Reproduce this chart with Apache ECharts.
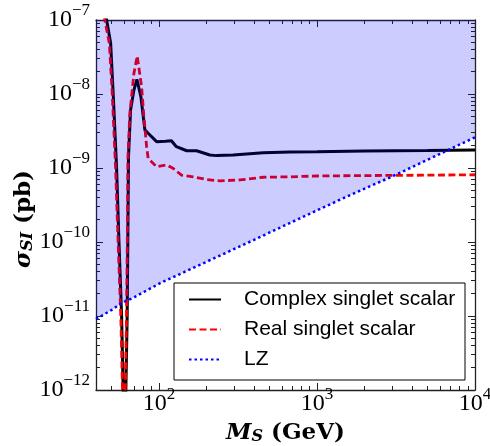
<!DOCTYPE html>
<html><head><meta charset="utf-8">
<script src="https://cdn.jsdelivr.net/npm/echarts@6/dist/echarts.min.js"></script>
<style>html,body{margin:0;padding:0;background:#fff}#c{width:490px;height:446px}</style>
</head><body><div id="c"></div>
<script>
// ---- data ----
const complexMass  = [42.6, 46.7, 49.5, 51.4, 54.0, 55.9, 58.1, 59.4, 60.6, 61.8, 63.0, 63.6, 64.2, 66.2, 69.5, 72.6, 76.9, 81.5, 85.5, 96.7, 110, 120, 129, 150, 173, 210, 232, 295, 457, 675, 1000, 2000, 5000, 10000];
const complexSigma = [3e-7, 1e-7, 4.9e-8, 1e-8, 1e-9, 1e-10, 1e-11, 1e-12, 1e-15, 1e-12, 1e-11, 1e-10, 1.4e-9, 6.1e-9, 1.13e-8, 1.58e-8, 9.2e-9, 3.27e-9, 2.95e-9, 2.27e-9, 2.3e-9, 2.34e-9, 1.94e-9, 1.71e-9, 1.71e-9, 1.5e-9, 1.47e-9, 1.5e-9, 1.61e-9, 1.65e-9, 1.66e-9, 1.7e-9, 1.72e-9, 1.75e-9];
const realMass  = [41.2, 45.5, 48.6, 50.7, 53.2, 55.2, 57.4, 58.9, 60.1, 61.3, 62.4, 63.1, 63.7, 65.5, 69.5, 72.9, 77.7, 80.4, 83.6, 85.5, 96.7, 112, 123, 139, 165, 200, 243, 326, 457, 675, 1000, 2000, 5000, 10000];
const realSigma = [3e-7, 1e-7, 4.8e-8, 1e-8, 1e-9, 1e-10, 1e-11, 1e-12, 1e-15, 1e-12, 1e-11, 1e-10, 1.4e-9, 5.5e-9, 1.9e-8, 3.26e-8, 1.26e-8, 4.9e-9, 1.94e-9, 1.35e-9, 1.04e-9, 1.1e-9, 9.9e-10, 8.0e-10, 7.6e-10, 7.0e-10, 6.7e-10, 6.9e-10, 7.5e-10, 7.6e-10, 7.8e-10, 7.9e-10, 8.0e-10, 8.1e-10];
const lzMass  = [40, 50, 58, 70, 101.5, 200, 400, 780, 1542, 3040, 10000];
const lzSigma = [9.1e-12, 1.2e-11, 1.49e-11, 1.8e-11, 2.77e-11, 5.4e-11, 1.07e-10, 2.09e-10, 4.1e-10, 7.8e-10, 2.6e-9];
const seriesNames = ['Complex singlet scalar', 'Real singlet scalar', 'LZ'];

const xMajorTicks = [100, 1000, 10000];
const xMinorTicks = [50, 60, 70, 80, 90, 200, 300, 400, 500, 600, 700, 800, 900, 2000, 3000, 4000, 5000, 6000, 7000, 8000, 9000];
const yMajorTicks = [1e-12, 1e-11, 1e-10, 1e-9, 1e-8, 1e-7];
const yMinorTicks = [
  2e-12, 3e-12, 4e-12, 5e-12, 6e-12, 7e-12, 8e-12, 9e-12,
  2e-11, 3e-11, 4e-11, 5e-11, 6e-11, 7e-11, 8e-11, 9e-11,
  2e-10, 3e-10, 4e-10, 5e-10, 6e-10, 7e-10, 8e-10, 9e-10,
  2e-9, 3e-9, 4e-9, 5e-9, 6e-9, 7e-9, 8e-9, 9e-9,
  2e-8, 3e-8, 4e-8, 5e-8, 6e-8, 7e-8, 8e-8, 9e-8];
const xRange = [40, 10000];
const yRange = [1e-12, 1e-7];

// ---- helpers ----
const zip = (a, b) => a.map((v, i) => [v, b[i]]);
function powLabel(v) {
  const l = Math.log10(v), e = Math.round(l);
  if (Math.abs(l - e) > 1e-6) return '';
  return '{b|10}{s|' + (e < 0 ? '\u2212' + (-e) : e) + '}';
}
const axisCol = '#222';
const tickRich = {
  b: {fontFamily: 'Liberation Serif', fontSize: 24, lineHeight: 26, color: '#000'},
  s: {fontFamily: 'Liberation Serif', fontSize: 17, lineHeight: 17, color: '#000', padding: [0, 0, 19, 0]}
};
function mkX(pos, ticks, len, main) {
  return {
    type: 'log', logBase: 10, min: xRange[0], max: xRange[1], position: pos, gridIndex: 0,
    axisLine: {show: main, lineStyle: {color: axisCol, width: 1.3}},
    axisTick: {show: true, inside: true, length: len, customValues: ticks, lineStyle: {color: axisCol, width: 1}},
    minorTick: {show: false}, splitLine: {show: false},
    axisLabel: pos === 'bottom' && main ? {show: true, customValues: ticks, formatter: powLabel, rich: tickRich, margin: 1} : {show: false}
  };
}
function mkY(pos, ticks, len, main) {
  return {
    type: 'log', logBase: 10, min: yRange[0], max: yRange[1], position: pos, gridIndex: 0,
    axisLine: {show: main, lineStyle: {color: axisCol, width: 1.3}},
    axisTick: {show: true, inside: true, length: len, customValues: ticks, lineStyle: {color: axisCol, width: 1}},
    minorTick: {show: false}, splitLine: {show: false},
    axisLabel: pos === 'left' && main ? {show: true, customValues: ticks, formatter: powLabel, rich: tickRich, margin: 6} : {show: false}
  };
}

const xAxes = [mkX('bottom', xMajorTicks, 7, true), mkX('bottom', xMinorTicks, 4, false), mkX('top', xMajorTicks, 7, true), mkX('top', xMinorTicks, 4, false)];
const yAxes = [mkY('left', yMajorTicks, 7, true), mkY('left', yMinorTicks, 4, false), mkY('right', yMajorTicks, 7, true), mkY('right', yMinorTicks, 4, false)];

const nameRich = {
  m: {fontFamily: 'DejaVu Serif', fontWeight: 'bold', fontStyle: 'italic', fontSize: 23, color: '#000'},
  sub: {fontFamily: 'DejaVu Serif', fontWeight: 'bold', fontStyle: 'italic', fontSize: 16, color: '#000', padding: [8, 0, 0, 0]},
  b: {fontFamily: 'DejaVu Serif', fontWeight: 'bold', fontSize: 23, color: '#000'}
};
xAxes[0].name = '{m|M}{sub|S}{b| (GeV)}';
xAxes[0].nameLocation = 'middle';
xAxes[0].nameGap = 31;
xAxes[0].nameMoveOverlap = false;
xAxes[0].nameTextStyle = {rich: nameRich};
yAxes[0].name = '{m|\u03c3}{sub|SI}{b| (pb)}';
yAxes[0].nameLocation = 'middle';
yAxes[0].nameRotate = 90;
yAxes[0].nameGap = 60;
yAxes[0].nameMoveOverlap = false;
yAxes[0].nameTextStyle = {padding: [0, 28, 0, 0], rich: nameRich};

const chart = echarts.init(document.getElementById('c'), null, {renderer: 'canvas'});
chart.setOption({
  animation: false,
  backgroundColor: '#fff',
  grid: {left: 96, right: 15, top: 20, bottom: 56, containLabel: false, outerBoundsMode: 'none'},
  xAxis: xAxes,
  yAxis: yAxes,
  legend: {
    orient: 'vertical', left: 174, top: 283,
    padding: [6, 9, 10, 14],
    backgroundColor: '#fff', borderColor: '#000', borderWidth: 1, borderRadius: 0,
    itemWidth: 32, itemHeight: 14, itemGap: 9,
    itemStyle: {color: 'rgba(0,0,0,0)', borderWidth: 0},
    textStyle: {fontFamily: 'Liberation Sans', fontSize: 21, lineHeight: 21, color: '#000', width: 212, padding: [0, 0, 0, 18]},
    data: seriesNames
  },
  series: [
    {name: seriesNames[0], type: 'line', data: zip(complexMass, complexSigma), xAxisIndex: 0, yAxisIndex: 0,
     showSymbol: false, symbol: 'none', clip: true, z: 2,
     lineStyle: {color: '#000', width: 3}, itemStyle: {color: '#000'}},
    {name: seriesNames[1], type: 'line', data: zip(realMass, realSigma), xAxisIndex: 0, yAxisIndex: 0,
     showSymbol: false, symbol: 'none', clip: true, z: 2,
     lineStyle: {color: '#ff0000', width: 2.8, type: [7, 3.5]}, itemStyle: {color: '#ff0000'}},
    {name: seriesNames[2], type: 'line', data: zip(lzMass, lzSigma), xAxisIndex: 0, yAxisIndex: 0,
     showSymbol: false, symbol: 'none', clip: true, z: 3,
     lineStyle: {color: '#0000ff', width: 2.5, type: [2.5, 3]}, itemStyle: {color: '#0000ff'},
     areaStyle: {color: 'rgba(0,0,255,0.2)', opacity: 1, origin: yRange[1]}}
  ]
});
</script></body></html>
